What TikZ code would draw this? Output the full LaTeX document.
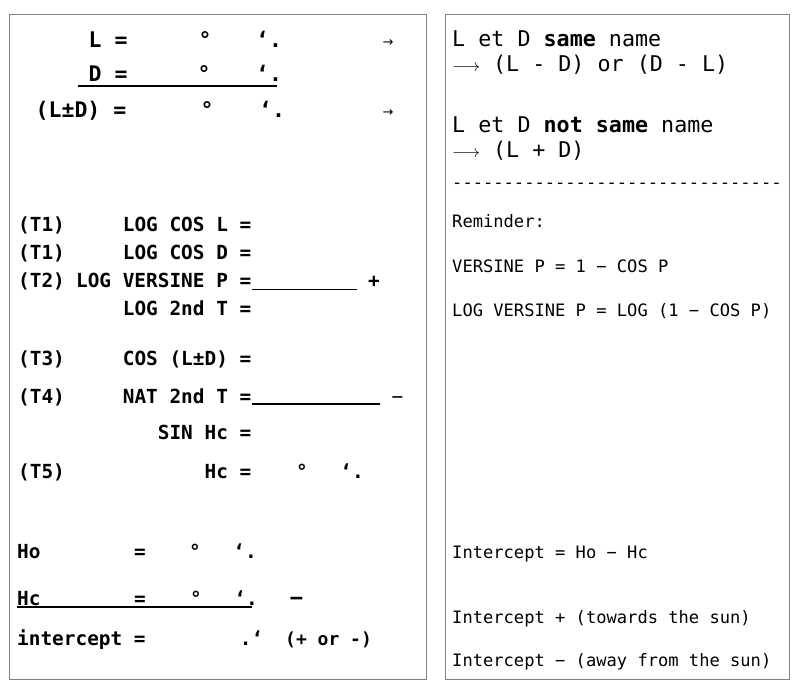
\documentclass[tikz,border=0pt]{standalone}
\usepackage{fontspec}
\setmonofont{DejaVu Sans Mono}
\newfontfamily\arrowfont{DejaVu Sans}
\tikzset{
  panel/.style={draw=black!50, line width=1pt},
  rule/.style={line width=1.3pt},
  big/.style={font=\ttfamily\bfseries\fontsize{21.5}{24}\selectfont, inner sep=0pt, anchor=base west},
  form/.style={font=\ttfamily\bfseries\fontsize{19.4}{22}\selectfont, inner sep=0pt, anchor=base west},
  formeq/.style={form, anchor=base east},
  signmark/.style={form, anchor=base},
  note/.style={font=\ttfamily\fontsize{21.7}{24}\selectfont, inner sep=0pt, anchor=base west},
  small/.style={font=\ttfamily\fontsize{17.1}{20}\selectfont, inner sep=0pt, anchor=base west},
  arr/.style={font=\arrowfont\fontsize{13}{14}\selectfont, inner sep=0pt},
}
\begin{document}
\begin{tikzpicture}[x=1pt, y=-1pt]
\useasboundingbox (0,0) rectangle (800,692);
\draw [panel] (9,15) rectangle (426,679);
\draw [panel] (445,15) rectangle (789,679);

% L, D and (L+-D)
\node (lat) [big] at (88.5,48) {L =};
\node (latdeg) [big, anchor=base] at (205,48) {°};
\node (latmin) [big, anchor=base] at (269,48) {‘.};
\node (latarr) [arr] at (388,43) {→};
\node (dec) [big] at (88.5,82) {D =};
\node (decdeg) [big, anchor=base] at (204,82) {°};
\node (decmin) [big, anchor=base] at (269,82) {‘.};
\coordinate (decend) at (277,86);
\draw [rule] (78,86) -- (decend);
\node (sum) [big] at (35.5,118) {(L±D) =};
\node (sumdeg) [big, anchor=base] at (207,118) {°};
\node (summin) [big, anchor=base] at (272,118) {‘.};
\node (sumarr) [arr] at (388,113) {→};

% tables
\node (t1a) [form] at (18,232) {(T1)};
\node (logl) [formeq] at (251.5,232) {LOG COS L =};
\node (t1b) [form] at (18,260) {(T1)};
\node (logd) [formeq] at (251.5,260) {LOG COS D =};
\node (t2) [form] at (18,288) {(T2)};
\node (vers) [formeq] at (251.5,288) {LOG VERSINE P =};
\coordinate (versend) at (357,289.5);
\draw [rule] (vers.base east |- versend) -- (versend);
\node (plus) [signmark] at (374,288) {+};
\node (logt) [formeq] at (251.5,316) {LOG 2nd T =};
\node (t3) [form] at (18,365) {(T3)};
\node (cosld) [formeq] at (251.5,365) {COS (L±D) =};
\node (t4) [form] at (18,403) {(T4)};
\node (natt) [formeq] at (251.5,403) {NAT 2nd T =};
\coordinate (nattend) at (380,404);
\draw [rule] (natt.base east |- nattend) -- (nattend);
\node (minus) [signmark, font=\ttfamily\fontsize{19.4}{22}\selectfont] at (397.5,403) {−};
\node (sinhc) [formeq] at (251.5,439) {SIN Hc =};
\node (t5) [form] at (18,478) {(T5)};
\node (hc) [formeq] at (251.5,478) {Hc =};
\node (hcdeg) [signmark] at (302,478) {°};
\node (hcmin) [signmark] at (352,478) {‘.};

% intercept
\node (ho) [form] at (17,558) {Ho};
\node (hoeq) [signmark] at (140,558) {=};
\node (hodeg) [signmark] at (195,558) {°};
\node (homin) [signmark] at (245,558) {‘.};
\node (hcb) [form] at (17,605) {Hc};
\node (hcbeq) [signmark] at (140,605) {=};
\node (hcbdeg) [signmark] at (196,605) {°};
\node (hcbmin) [signmark] at (246,605) {‘.};
\coordinate (hcbend) at (252,607);
\draw [rule] (hcb.base west |- hcbend) -- (hcbend);
\node (hcbminus) [signmark, font=\ttfamily\bfseries\fontsize{22}{24}\selectfont] at (296.5,605) {−};
\node (icpt) [form] at (17,645) {intercept =};
\node (icptmin) [signmark] at (251.5,645) {.‘};
\node (icptsign) [form, font=\ttfamily\bfseries\fontsize{18}{20}\selectfont] at (285,645) {(+ or -)};

% notes
\node (same) [note] at (452,47) {L et D \textbf{same} name};
\node (samer) [note] at (452,71.5) {{\fontsize{16.5}{18}\selectfont$\longrightarrow$} (L - D) or (D - L)};
\node (nsame) [note] at (452,133) {L et D \textbf{not same} name};
\node (nsamer) [note] at (452,158) {{\fontsize{16.5}{18}\selectfont$\longrightarrow$} (L + D)};
\node (sep) [small] at (452,188.5) {--------------------------------};
\node (remind) [small] at (452,228) {Reminder:};
\node (versp) [small] at (452,273) {VERSINE P = 1 − COS P};
\node (logvers) [small] at (452,317) {LOG VERSINE P = LOG (1 − COS P)};
\node (icdef) [small] at (452,558) {Intercept = Ho − Hc};
\node (icplus) [small] at (452,623) {Intercept + (towards the sun)};
\node (icminus) [small] at (452,666) {Intercept − (away from the sun)};
\end{tikzpicture}
\end{document}
